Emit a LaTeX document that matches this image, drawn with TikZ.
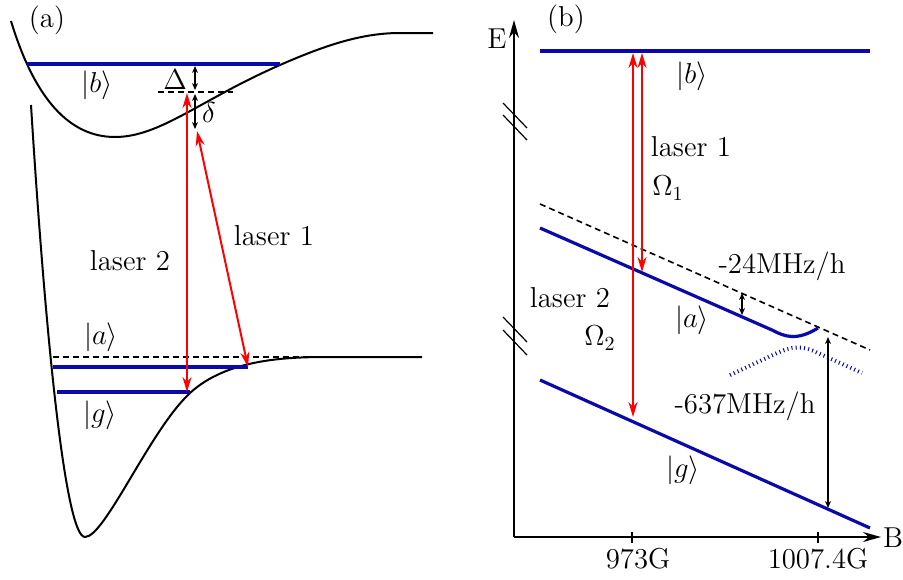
\documentclass[tikz,border=0pt]{standalone}
\usetikzlibrary{arrows.meta}
\definecolor{levelBlue}{HTML}{0A0AAA}
\definecolor{laserRed}{HTML}{FF0000}

\begin{document}
\begin{tikzpicture}[
    x=0.5pt, y=-0.5pt,
    font=\Large,
    curve/.style={line width=1pt, draw=black},
    level/.style={line width=1.6pt, draw=levelBlue},
    avoided/.style={line width=2pt, draw=levelBlue, dash pattern=on 0.5pt off 1.6pt},
    laser/.style={{Stealth[length=7.5pt,width=4.5pt]}-{Stealth[length=7.5pt,width=4.5pt]},
        line width=1pt, draw=laserRed},
    gap/.style={{Stealth[length=3.5pt,width=3pt]}-{Stealth[length=3.5pt,width=3pt]},
        line width=0.6pt},
    guide/.style={line width=0.8pt, dash pattern=on 3pt off 2pt},
    axis/.style={-{Stealth[length=9pt,width=5pt]}, line width=1pt},
    brk/.style={line width=0.6pt}
]
\useasboundingbox (0,0) rectangle (903,579);

% (a) molecular potentials
\node (LabelA) at (47,20) {(a)};
\draw[curve] (11,21) .. controls (35,100) and (70,137) .. (115,137)
  .. controls (160,137) and (200,100) .. (280,65)
  .. controls (330,43) and (365,33) .. (400,33) -- (433,33);
\draw[curve] (31,105) .. controls (45,330) and (65,537) .. (85,537)
  .. controls (105,537) and (150,430) .. (190,393)
  .. controls (228,358) and (290,357) .. (330,357) -- (422,357);

\draw[level] (27,64) -- (280,64);
\draw[level] (53,367) -- (248,367);
\draw[level] (57,392) -- (190,392);
\draw[guide] (53,357) -- (330,357);
\draw[guide] (158,92) -- (233,92);

\coordinate (VirtA) at (187,93);
\coordinate (GroundA) at (187,392);
\coordinate (DetunA) at (197,131);
\coordinate (StateA) at (248,367);
\draw[laser] (VirtA) -- (GroundA);
\draw[laser] (DetunA) -- (StateA);

\coordinate (DeltaTop) at (195,66);
\coordinate (DeltaBot) at (195,90);
\coordinate (SmallTop) at (195,94);
\coordinate (SmallBot) at (195,129);
\draw[gap] (DeltaTop) -- (DeltaBot);
\draw[gap] (SmallTop) -- (SmallBot);

\node (KetB) at (97,85) {$|b\rangle$};
\node (Delta) at (175,80) {$\Delta$};
\node (SmallDelta) at (209,112) {$\delta$};
\node (KetA) at (101,337) {$|a\rangle$};
\node (KetG) at (100,415) {$|g\rangle$};
\node (LaserTwoA) at (130,261) {laser 2};
\node (LaserOneA) at (274,236) {laser 1};

% (b) levels versus magnetic field
\node (LabelB) at (566,19) {(b)};
\coordinate (Origin) at (514,537);
\coordinate (ETip) at (514,20);
\coordinate (BTip) at (881,537);
\draw[axis] (Origin) -- (ETip);
\draw[axis] (Origin) -- (BTip);
\node (AxisE) at (497,39) {E};
\node (AxisB) at (893,538) {B};
\foreach \y in {103,115,317,330}
  \draw[brk] (503,\y) -- (527,\y+25);
\foreach \x in {632,818}
  \draw[line width=0.8pt] (\x,532) -- (\x,543);
\node (FieldOne) at (638,559) {973G};
\node (FieldTwo) at (818,559) {1007.4G};

\draw[level] (540,51) -- (870,51);
\draw[guide] (540,204) -- (870,350);
\draw[level] (540,228) -- (772,330) .. controls (785,337) and (797,341) .. (818,328);
\draw[avoided] (730,375) -- (775,354) .. controls (792,346) and (802,345) .. (818,353) -- (862,373);
\draw[level] (540,380) -- (870,528);

\coordinate (UpperL2) at (633,53);
\coordinate (LowerL2) at (633,417);
\coordinate (UpperL1) at (642,53);
\coordinate (LowerL1) at (642,272);
\draw[laser] (UpperL2) -- (LowerL2);
\draw[laser] (UpperL1) -- (LowerL1);

\coordinate (BindTop) at (742,293);
\coordinate (BindBot) at (742,315);
\coordinate (DepthTop) at (828,337);
\coordinate (DepthBot) at (828,508);
\draw[gap] (BindTop) -- (BindBot);
\draw[gap] (DepthTop) -- (DepthBot);

\node (KetBb) at (692,76) {$|b\rangle$};
\node (LaserOneB) at (691,147) {laser 1};
\node (OmegaOne) at (668,188) {$\Omega_1$};
\node (Binding) at (782,266) {-24MHz/h};
\node (LaserTwoB) at (570,298) {laser 2};
\node (OmegaTwo) at (600,338) {$\Omega_2$};
\node (KetAb) at (692,320) {$|a\rangle$};
\node (Depth) at (745,406) {-637MHz/h};
\node (KetGb) at (683,470) {$|g\rangle$};

\end{tikzpicture}
\end{document}
